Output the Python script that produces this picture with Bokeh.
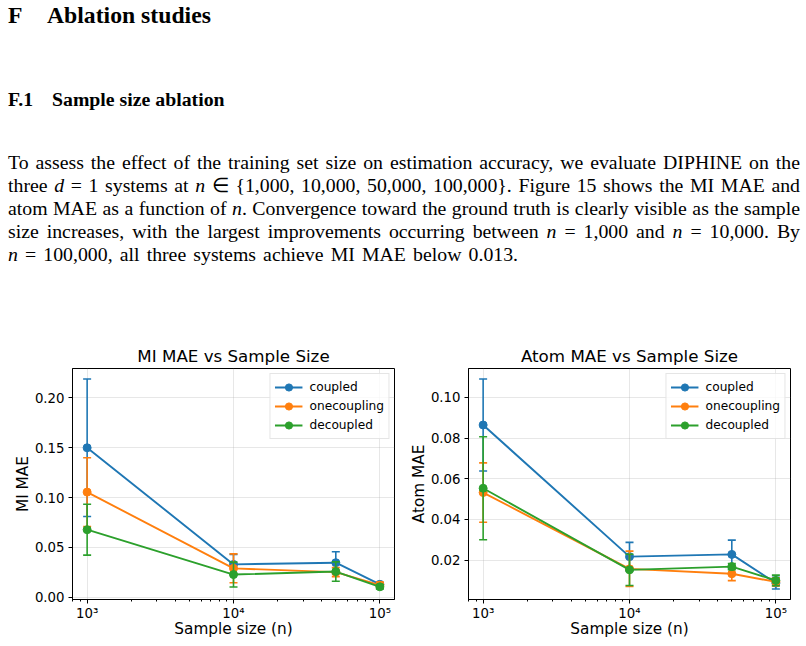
from bokeh.plotting import figure
from bokeh.models import Div, Range1d, FixedTicker, NumeralTickFormatter, Legend, LegendItem, ColumnDataSource
from bokeh.layouts import column, row
from bokeh.embed import file_html
from bokeh.resources import INLINE

# ---------------- data ----------------
sample_sizes = [1000, 10000, 50000, 100000]
series_names = ["coupled", "onecoupling", "decoupled"]
series_colors = ["#1f77b4", "#ff7f0e", "#2ca02c"]

mi_coupled = [0.1500, 0.0330, 0.0347, 0.0130]
mi_coupled_err = [0.0690, 0.0100, 0.0110, 0.0015]
mi_onecoupling = [0.1055, 0.0290, 0.0252, 0.0122]
mi_onecoupling_err = [0.0345, 0.0145, 0.0045, 0.0030]
mi_decoupled = [0.0678, 0.0228, 0.0258, 0.0105]
mi_decoupled_err = [0.0255, 0.0125, 0.0097, 0.0022]

atom_coupled = [0.0864, 0.0217, 0.0228, 0.0087]
atom_coupled_err = [0.0226, 0.0070, 0.0070, 0.0029]
atom_onecoupling = [0.0532, 0.0157, 0.0133, 0.0093]
atom_onecoupling_err = [0.0146, 0.0087, 0.0034, 0.0020]
atom_decoupled = [0.0553, 0.0152, 0.0168, 0.0100]
atom_decoupled_err = [0.0253, 0.0077, 0.0015, 0.0026]

x_ticks = [1000, 10000, 100000]
x_tick_labels = ["10\u00b3", "10\u2074", "10\u2075"]
mi_y_ticks = [0.00, 0.05, 0.10, 0.15, 0.20]
atom_y_ticks = [0.02, 0.04, 0.06, 0.08, 0.10]

heading_number = "F"
heading_text = "Ablation studies"
subheading_number = "F.1"
subheading_text = "Sample size ablation"
paragraph_lines = [
    "To assess the effect of the training set size on estimation accuracy, we evaluate DIPHINE on the",
    "three <i>d</i> = 1 systems at <i>n</i> &isin; {1,000, 10,000, 50,000, 100,000}. Figure 15 shows the MI MAE and",
    "atom MAE as a function of <i>n</i>. Convergence toward the ground truth is clearly visible as the sample",
    "size increases, with the largest improvements occurring between <i>n</i> = 1,000 and <i>n</i> = 10,000. By",
    "<i>n</i> = 100,000, all three systems achieve MI MAE below 0.013.",
]

# ---------------- text block ----------------
parts = ['<div style="position:relative;width:806px;height:340px;font-family:\'Liberation Serif\',serif;color:#000;">']
parts.append('<div style="position:absolute;left:8px;top:4px;font-size:23.7px;line-height:23.7px;font-weight:bold;white-space:nowrap;">%s</div>' % heading_number)
parts.append('<div style="position:absolute;left:47px;top:4px;font-size:23.7px;line-height:23.7px;font-weight:bold;white-space:nowrap;">%s</div>' % heading_text)
parts.append('<div style="position:absolute;left:8px;top:90px;font-size:19.8px;line-height:19.8px;font-weight:bold;white-space:nowrap;">%s</div>' % subheading_number)
parts.append('<div style="position:absolute;left:52px;top:90px;font-size:19.8px;line-height:19.8px;font-weight:bold;white-space:nowrap;">%s</div>' % subheading_text)
for i, ln in enumerate(paragraph_lines):
    last = i == len(paragraph_lines) - 1
    align = "left" if last else "justify"
    wsp = "2.2px" if last else "0.5px"
    parts.append(
        '<div style="position:absolute;left:8px;top:%dpx;width:792px;font-size:19.8px;line-height:23px;'
        'word-spacing:%s;white-space:nowrap;text-align:%s;text-align-last:%s;">%s</div>' % (151 + 23 * i, wsp, align, align, ln)
    )
parts.append('</div>')
div = Div(text="".join(parts), width=806, height=340, margin=0)

FONT = "DejaVu Sans"


def make_panel(title, ylabel, values, errors, y_ticks, border_left, border_right):
    lows = [v - e for vals, errs in zip(values, errors) for v, e in zip(vals, errs)]
    highs = [v + e for vals, errs in zip(values, errors) for v, e in zip(vals, errs)]
    lo, hi = min(lows), max(highs)
    pad = 0.05 * (hi - lo)
    p = figure(
        x_axis_type="log",
        x_range=Range1d(10 ** 2.9, 10 ** 5.1),
        y_range=Range1d(lo - pad, hi + pad),
        frame_width=322, frame_height=231,
        min_border_left=border_left, min_border_right=border_right,
        min_border_top=28, min_border_bottom=47,
        output_backend="svg", toolbar_location=None,
        title=title,
    )
    p.title.align = "center"
    p.title.text_font = FONT
    p.title.text_font_size = "16.7px"
    p.title.text_font_style = "normal"
    p.title.text_color = "black"
    p.title.standoff = 5

    p.outline_line_color = "black"
    p.outline_line_width = 1
    p.background_fill_color = "white"
    p.border_fill_color = "white"

    minor = [m * 10 ** k for k in (2, 3, 4) for m in range(2, 10)]
    p.xaxis.ticker = FixedTicker(ticks=x_ticks, minor_ticks=minor)
    p.xaxis.major_label_overrides = dict(zip(x_ticks, x_tick_labels))
    p.yaxis.ticker = FixedTicker(ticks=y_ticks)
    p.yaxis.formatter = NumeralTickFormatter(format="0.00")
    p.xaxis.axis_label = "Sample size (n)"
    p.yaxis.axis_label = ylabel
    for ax in (p.xaxis[0], p.yaxis[0]):
        ax.axis_label_text_font = FONT
        ax.axis_label_text_font_size = "15.3px"
        ax.axis_label_text_font_style = "normal"
        ax.axis_label_text_color = "black"
        ax.major_label_text_font = FONT
        ax.major_label_text_font_size = "13.3px"
        ax.major_label_text_color = "black"
        ax.axis_line_color = "black"
        ax.major_tick_line_color = "black"
        ax.minor_tick_line_color = "black"
        ax.major_tick_out = 4
        ax.major_tick_in = 0
        ax.minor_tick_out = 2
        ax.minor_tick_in = 0
    p.xaxis.major_label_standoff = 2
    p.xaxis.axis_label_standoff = -4
    p.yaxis.major_label_standoff = 4
    p.yaxis.axis_label_standoff = 0
    p.yaxis.minor_tick_line_color = None

    p.xgrid.grid_line_color = "#b0b0b0"
    p.xgrid.grid_line_alpha = 0.3
    p.ygrid.grid_line_color = "#b0b0b0"
    p.ygrid.grid_line_alpha = 0.3
    p.xgrid.ticker = FixedTicker(ticks=x_ticks)
    p.ygrid.ticker = FixedTicker(ticks=y_ticks)

    items = []
    for name, color, vals, errs in zip(series_names, series_colors, values, errors):
        src = ColumnDataSource(dict(
            x=sample_sizes, y=vals,
            lower=[v - e for v, e in zip(vals, errs)],
            upper=[v + e for v, e in zip(vals, errs)],
        ))
        p.segment(x0="x", y0="lower", x1="x", y1="upper", source=src, line_color=color, line_width=1.6)
        p.scatter(x="x", y="lower", source=src, marker="dash", size=8, line_color=color, line_width=1.6)
        p.scatter(x="x", y="upper", source=src, marker="dash", size=8, line_color=color, line_width=1.6)
        lr = p.line(x="x", y="y", source=src, line_color=color, line_width=1.9)
        sr = p.scatter(x="x", y="y", source=src, marker="circle", size=8, fill_color=color, line_color=color)
        items.append(LegendItem(label=name, renderers=[lr, sr]))

    legend = Legend(items=items, location="top_right")
    legend.label_text_font = FONT
    legend.label_text_font_size = "12.2px"
    legend.label_text_color = "black"
    legend.glyph_width = 28
    legend.glyph_height = 18
    legend.label_height = 18
    legend.label_standoff = 7
    legend.padding = 4
    legend.spacing = 1
    legend.margin = 5
    legend.border_line_color = "#cccccc"
    legend.border_line_width = 1
    legend.background_fill_alpha = 0.8
    p.add_layout(legend)
    return p


p1 = make_panel(
    "MI MAE vs Sample Size", "MI MAE",
    [mi_coupled, mi_onecoupling, mi_decoupled],
    [mi_coupled_err, mi_onecoupling_err, mi_decoupled_err],
    mi_y_ticks, 72, 9,
)
p2 = make_panel(
    "Atom MAE vs Sample Size", "Atom MAE",
    [atom_coupled, atom_onecoupling, atom_decoupled],
    [atom_coupled_err, atom_onecoupling_err, atom_decoupled_err],
    atom_y_ticks, 65, 15,
)

layout = column(div, row(p1, p2))
open("out.html", "w").write(file_html(layout, INLINE))
